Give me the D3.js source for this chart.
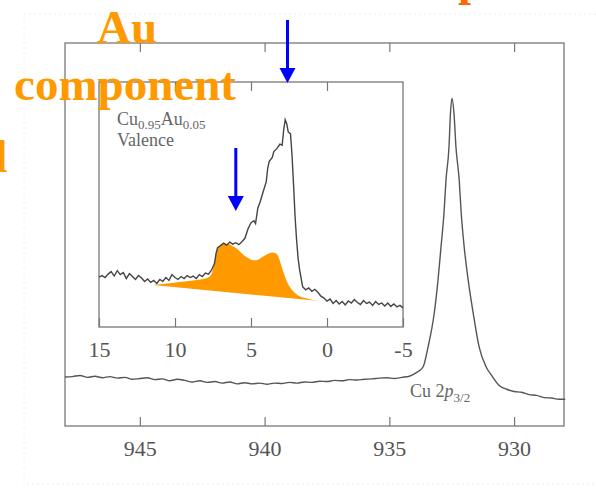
<!DOCTYPE html>
<html>
<head>
<meta charset="utf-8">
<script src="https://cdn.jsdelivr.net/npm/d3@7"></script>
<style>
  body { margin: 0; background: #fff; }
  svg { display: block; font-family: "Liberation Serif", "Times New Roman", serif; }
</style>
</head>
<body>
<svg id="canvas" width="596" height="488"></svg>
<script>
// Cu 2p3/2 core level (binding energy, intensity)
var coreBE = [948.0, 947.7, 947.4, 947.1, 946.8, 946.5, 946.2, 945.9, 945.6, 945.3, 945.0, 944.7, 944.4, 944.1,
  943.8, 943.5, 943.2, 942.9, 942.6, 942.3, 942.0, 941.7, 941.4, 941.1, 940.8, 940.5, 940.2, 939.9, 939.6, 939.3,
  939.0, 938.7, 938.4, 938.1, 937.8, 937.5, 937.2, 936.9, 936.6, 936.3, 936.0, 935.7, 935.4, 935.1, 934.8, 934.5,
  934.2, 933.9, 933.65, 933.45, 933.2, 933.05, 932.93, 932.81, 932.73, 932.61, 932.55, 932.49, 932.41, 932.33,
  932.2, 932.12, 932.0, 931.84, 931.64, 931.4, 931.12, 930.9, 930.6, 930.3, 930.0, 929.7, 929.4, 929.1, 928.8,
  928.5, 928.2, 927.95];
var coreI = [12.8, 12.9, 13.2, 12.7, 13.0, 12.6, 12.9, 12.5, 12.7, 12.2, 12.4, 12.6, 12.1, 12.3,
  11.8, 12.2, 11.9, 11.5, 11.8, 11.4, 11.6, 11.2, 11.5, 11.0, 11.3, 11.0, 11.2, 10.9, 11.2, 11.1,
  11.4, 11.2, 11.5, 11.4, 11.7, 11.6, 11.9, 11.8, 12.1, 12.0, 12.2, 12.3, 12.5, 12.6, 12.4, 12.7,
  13.0, 14.0, 15.4, 20.6, 29.5, 38.1, 46.7, 55.6, 64.2, 72.8, 81.7, 85.6, 81.7, 72.8,
  64.2, 55.6, 46.7, 38.1, 29.5, 20.6, 15.4, 13.2, 10.6, 9.6, 9.0, 8.8, 8.2, 8.0, 7.4,
  7.3, 7.0, 7.0];

// valence band (binding energy, intensity)
var valBE = [15.0, 14.8, 14.6, 14.4, 14.2, 14.0, 13.8, 13.6, 13.4, 13.2, 13.0, 12.8, 12.6, 12.4, 12.2, 12.0,
  11.8, 11.6, 11.4, 11.2, 11.0, 10.8, 10.6, 10.4, 10.2, 10.0, 9.8, 9.6, 9.4, 9.2, 9.0, 8.8, 8.6, 8.4, 8.2, 8.0,
  7.8, 7.6, 7.4, 7.3, 7.2, 7.0, 6.8, 6.6, 6.4, 6.2, 6.0, 5.8, 5.6, 5.4, 5.2, 5.0, 4.8, 4.7, 4.55, 4.4, 4.2,
  4.0, 3.9, 3.8, 3.6, 3.5, 3.3, 3.1, 2.95, 2.85, 2.75, 2.65, 2.55, 2.4, 2.3, 2.2, 2.1, 2.0, 1.9, 1.8, 1.6,
  1.4, 1.2, 1.0, 0.8, 0.6, 0.4, 0.2, 0.0, -0.2, -0.4, -0.6, -0.8, -1.0, -1.2, -1.4, -1.6, -1.8, -2.0,
  -2.2, -2.4, -2.6, -2.8, -3.0, -3.2, -3.4, -3.6, -3.8, -4.0, -4.2, -4.4, -4.6, -4.8, -5.0];
var valI = [20.4, 21.0, 20.2, 21.6, 22.6, 20.8, 23.0, 21.4, 22.2, 19.8, 21.8, 20.6, 19.4, 21.0, 20.0, 18.6,
  19.6, 18.2, 19.0, 17.8, 19.4, 18.6, 20.2, 19.0, 21.4, 20.2, 19.4, 20.6, 19.8, 21.0, 20.2, 20.8, 19.8, 21.4, 20.6, 22.0,
  21.6, 23.2, 26.0, 30.0, 32.4, 33.2, 34.2, 33.4, 34.6, 33.8, 34.4, 33.6, 34.8, 36.2, 40.0, 42.6, 43.4, 42.2, 48.6, 51.0, 55.2,
  59.2, 64.8, 67.6, 69.2, 71.6, 72.8, 74.6, 74.2, 80.4, 84.6, 83.0, 79.6, 78.8, 70.0, 58.0, 45.0, 35.5, 28.0, 23.3, 16.4,
  15.2, 16.0, 14.6, 15.4, 14.2, 12.6, 11.8, 10.6, 11.4, 9.6, 10.8, 9.4, 10.4, 9.0, 10.6, 9.8, 11.2, 10.0,
  9.2, 10.8, 9.6, 10.2, 8.8, 10.4, 9.2, 9.8, 8.6, 9.8, 8.4, 9.4, 8.2, 8.8, 7.8];

// Au 5d component (upper edge) and its background line
var auBE = [11.45, 10.5, 9.67, 8.8, 7.9, 7.6, 7.45, 7.25, 7.05, 6.8, 6.5, 6.2, 5.9, 5.6, 5.2, 4.8, 4.5,
  4.2, 3.9, 3.6, 3.35, 3.15, 2.95, 2.7, 2.45, 2.2, 1.9, 1.5, 1.0, 0.5, -0.2];
var auI = [17.1, 17.8, 18.4, 19.0, 20.0, 21.5, 25.0, 31.0, 33.2, 34.0, 33.9, 33.0, 31.8, 30.0, 28.2, 27.2, 27.6,
  28.8, 29.8, 30.4, 30.0, 28.0, 24.0, 19.5, 16.4, 14.4, 12.9, 11.9, 11.1, 10.6, 10.2];
var auBaseBE = [11.45, -0.2];
var auBaseI = [17.1, 10.2];

var coreTicks = [945, 940, 935, 930];
var valTicks = [15, 10, 5, 0, -5];
var valTopTicks = [10, 5, 0];
var arrowBE = [2.6, 6.0];   // valence energies marked by the blue arrows

var svg = d3.select('#canvas');
var grey = '#666';

// faint scan border
svg.append('rect').attr('x', 24).attr('y', 14).attr('width', 600).attr('height', 470)
  .attr('fill', 'none').attr('stroke', '#eee').attr('stroke-dasharray', '2,3');

// ---- main panel ----
var x = d3.scaleLinear().domain([948, 928]).range([65, 564]);
var y = d3.scaleLinear().domain([0, 100]).range([426, 43]);

svg.append('rect').attr('x', 65).attr('y', 43).attr('width', 499).attr('height', 383)
  .attr('fill', '#fff').attr('stroke', '#777').attr('stroke-width', 1.3);

var fmt = function(d) { return String(d); };

var gx = svg.append('g').attr('transform', 'translate(0,426)')
  .call(d3.axisBottom(x).tickValues(coreTicks).tickFormat(fmt).tickSizeInner(-9).tickSizeOuter(0).tickPadding(14));
var gxt = svg.append('g').attr('transform', 'translate(0,43)')
  .call(d3.axisTop(x).tickValues(coreTicks).tickSizeInner(-9).tickSizeOuter(0).tickFormat(''));

var coreData = coreBE.map(function(be, i) { return [be, coreI[i]]; });
svg.append('path').datum(coreData)
  .attr('fill', 'none').attr('stroke', '#555').attr('stroke-width', 1.4)
  .attr('d', d3.line()
    .x(function(d) { return x(d[0]); })
    .y(function(d) { return y(d[1]); })
    .curve(d3.curveMonotoneX));

var lab = svg.append('text').attr('x', 410).attr('y', 397).attr('fill', grey).attr('font-size', 18);
lab.append('tspan').text('Cu 2');
lab.append('tspan').attr('font-style', 'italic').text('p');
lab.append('tspan').attr('font-size', 13).attr('dy', 5).text('3/2');

// ---- inset ----
var xi = d3.scaleLinear().domain([15, -5]).range([99, 403]);
var yi = d3.scaleLinear().domain([0, 100]).range([327, 82]);

svg.append('rect').attr('x', 99).attr('y', 82).attr('width', 304).attr('height', 245)
  .attr('fill', '#fff').attr('stroke', '#777').attr('stroke-width', 1.3);

var gxi = svg.append('g').attr('transform', 'translate(0,327)')
  .call(d3.axisBottom(xi).tickValues(valTicks).tickFormat(fmt).tickSizeInner(-9).tickSizeOuter(0).tickPadding(14));
var gxit = svg.append('g').attr('transform', 'translate(0,82)')
  .call(d3.axisTop(xi).tickValues(valTopTicks).tickSizeInner(-9).tickSizeOuter(0).tickFormat(''));

[gx, gxt, gxi, gxit].forEach(function(g) {
  g.select('.domain').remove();
  g.selectAll('line').attr('stroke', '#777').attr('stroke-width', 1.2);
  g.selectAll('text').attr('fill', '#555').attr('font-size', 22)
    .attr('font-family', '"Liberation Serif", "Times New Roman", serif');
});

// Au component area: top edge then straight background back
var auTop = auBE.map(function(be, i) { return [xi(be), yi(auI[i])]; });
var auBase = auBaseBE.map(function(be, i) { return [xi(be), yi(auBaseI[i])]; }).reverse();
var topPath = d3.line().curve(d3.curveMonotoneX)(auTop);
svg.append('path')
  .attr('d', topPath + 'L' + auBase[0].join(',') + 'L' + auBase[1].join(',') + 'Z')
  .attr('fill', '#ff9900');

var valData = valBE.map(function(be, i) { return [be, valI[i]]; });
svg.append('path').datum(valData)
  .attr('fill', 'none').attr('stroke', '#444').attr('stroke-width', 1.4)
  .attr('d', d3.line()
    .x(function(d) { return xi(d[0]); })
    .y(function(d) { return yi(d[1]); }));

var t1 = svg.append('text').attr('x', 117).attr('y', 125).attr('fill', grey).attr('font-size', 18);
t1.append('tspan').text('Cu');
t1.append('tspan').attr('font-size', 13).attr('dy', 4).text('0.95');
t1.append('tspan').attr('dy', -4).text('Au');
t1.append('tspan').attr('font-size', 13).attr('dy', 4).text('0.05');
svg.append('text').attr('x', 117).attr('y', 146).attr('fill', grey).attr('font-size', 18).text('Valence');

// ---- annotations ----
var arrowTop = [20, 148];
var arrowTip = [83, 211];
arrowBE.forEach(function(be, i) {
  var ax = xi(be);
  svg.append('line').attr('x1', ax).attr('x2', ax).attr('y1', arrowTop[i]).attr('y2', arrowTip[i] - 12)
    .attr('stroke', '#0000ff').attr('stroke-width', 3);
  svg.append('path')
    .attr('d', 'M' + (ax - 8) + ',' + (arrowTip[i] - 15) + 'L' + (ax + 8) + ',' + (arrowTip[i] - 15) + 'L' + ax + ',' + arrowTip[i] + 'Z')
    .attr('fill', '#0000ff');
});

var orange = svg.append('g').attr('fill', '#ff9900').attr('font-weight', 'bold').attr('font-size', 47)
  .attr('text-anchor', 'middle');
orange.append('text').attr('x', 127).attr('y', 43).text('Au');
orange.append('text').attr('x', 125).attr('y', 100).text('component');
orange.append('text').attr('x', 1).attr('y', 172).text('l');
svg.append('text').attr('x', 471).attr('y', -5).attr('text-anchor', 'middle')
  .attr('fill', '#ff6600').attr('font-weight', 'bold').attr('font-size', 47).text('p');
</script>
</body>
</html>
